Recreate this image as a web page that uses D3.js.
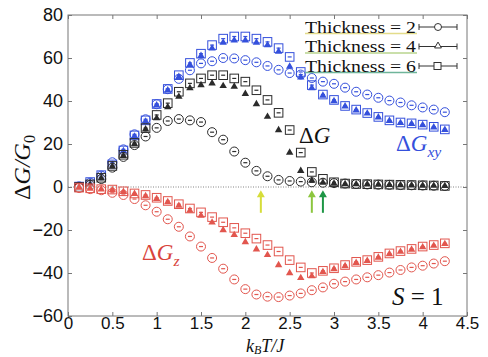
<!DOCTYPE html>
<html>
<head>
<meta charset="utf-8">
<script src="https://cdn.jsdelivr.net/npm/d3@7"></script>
<style>
  body { margin: 0; background: #fff; }
  svg { display: block; }
</style>
</head>
<body>
<div id="chart"></div>
<script>
// temperature k_B T / J
const temps = [0.125, 0.25, 0.375, 0.5, 0.625, 0.75, 0.875, 1, 1.125, 1.25, 1.375, 1.5,
  1.625, 1.75, 1.875, 2, 2.125, 2.25, 2.375, 2.5, 2.625, 2.75, 2.875, 3, 3.125, 3.25,
  3.375, 3.5, 3.625, 3.75, 3.875, 4, 4.125, 4.25];

// ΔG_xy
const gxy2 = [0.3, 2, 5.3, 11.5, 17.5, 24.5, 31.5, 38.5, 45.5, 50.3, 54.3, 57.5, 58.5, 60, 59.8, 59,
  58, 56.3, 54.5, 53, 52.3, 50.7, 49, 48, 46.2, 44.3, 43, 41.5, 40.2, 39.3, 38, 37, 36, 34.8];
const gxy4 = [0.2, 2.2, 5.3, 10.3, 16.7, 23.5, 30.5, 38, 45, 51.2, 56.8, 61, 64.5, 67.2, 68.2, 68.2,
  67.2, 66, 63, 56, 51, 46, 42.5, 40, 37.5, 35.7, 34.2, 32.4, 30.8, 29.8, 29.4, 28.8, 27.8, 26.6];
const gxy6 = [0.2, 2.3, 5.5, 10.5, 17, 24, 31, 38.6, 45.6, 52, 57.7, 62, 66, 69, 70, 70,
  69, 67.5, 64.6, 60.5, 53.5, 47.4, 43, 40.5, 37.7, 36, 34.4, 32.6, 31, 30, 29.6, 29, 28, 26.8];

// ΔG
const g2 = [0, 1, 3.7, 9, 14, 19.5, 23.5, 27.5, 30.7, 31.6, 31, 30.2, 25.5, 22, 16.5, 11.3,
  7.5, 5, 3.3, 2.8, 2.5, 2.2, 2, 1.8, 1.6, 1.4, 1.2, 1.1, 1, 0.9, 0.8, 0.7, 0.6, 0.5];
const g4 = [0, 1.1, 4, 9.5, 14.5, 20, 26.8, 32, 37.2, 42, 46, 47.4, 48.2, 47, 46.7, 43.3,
  38.6, 32.7, 26.5, 16, 7.5, 3, 2, 1.6, 1.4, 1.3, 1.2, 1.1, 1, 0.9, 0.8, 0.7, 0.6, 0.5];
const g6 = [0, 1.2, 4.3, 9.8, 15, 20.5, 27.4, 33.5, 39, 44.3, 48.2, 50.5, 52, 52, 50.5, 49,
  45, 40.5, 34.5, 26.5, 16, 7, 3.8, 2.2, 1.6, 1.4, 1.3, 1.2, 1.1, 1, 0.9, 0.8, 0.7, 0.5];

// ΔG_z
const gz2 = [-0.5, -1, -1.5, -2.7, -3.7, -5.6, -8.5, -11.5, -15, -18.5, -23, -27.7, -33, -38, -43, -47.5,
  -50, -51, -51.2, -50.5, -49.5, -48, -46.7, -45, -44, -43, -42, -41, -39.8, -38.6, -37.4, -36.6, -35.6, -34.5];
const gz4 = [-0.3, -0.7, -1.1, -1.4, -2.2, -3.2, -4.2, -5.5, -7, -8.7, -11, -13.3, -16.5, -20, -22.3, -25.6,
  -29, -31.6, -36.3, -40, -42.3, -41.5, -39.5, -38.2, -36.8, -35.3, -34.3, -32.8, -31.2, -30.1, -29.1, -28, -27.3, -26.5];
const gz6 = [-0.3, -0.6, -1, -1.2, -2, -3, -3.7, -5, -6.5, -8, -10, -11.8, -14, -16.4, -19, -21.5,
  -24, -27, -30, -34, -37.4, -40, -39, -37.8, -36.3, -34.8, -34, -32.5, -30.9, -29.8, -28.8, -27.7, -27, -26.2];

const xTicks = [0, 0.5, 1, 1.5, 2, 2.5, 3, 3.5, 4, 4.5];
const yTicks = [-60, -40, -20, 0, 20, 40, 60, 80];
const thickness = [2, 4, 6];
const arrowT = [2.175, 2.75, 2.875];

const config = {
  width: 488,
  height: 357,
  margin: {top: 15, right: 21, bottom: 41, left: 68},
  colors: {xy: "#3550dc", g: "#2b2b2b", z: "#e2564e"},
  arrowColors: ["#d6dd3a", "#8cc63f", "#1e9645"],
  underline: ["#e3dc8a", "#b9d58e", "#6fb59a"],
  tickLen: 4,
  serif: "'Liberation Serif', 'DejaVu Serif', serif",
  sans: "'Liberation Sans', Arial, sans-serif"
};

const m = config.margin;
const svg = d3.select("#chart").append("svg")
  .attr("width", config.width)
  .attr("height", config.height)
  .attr("viewBox", [0, 0, config.width, config.height]);

const x = d3.scaleLinear([0, 4.5], [m.left, config.width - m.right]);
const y = d3.scaleLinear([-60, 80], [config.height - m.bottom, m.top]);

// frame
svg.append("rect")
  .attr("x", x(0)).attr("y", y(80))
  .attr("width", x(4.5) - x(0)).attr("height", y(-60) - y(80))
  .attr("fill", "none").attr("stroke", "#777").attr("stroke-width", 1);

// axes with inward ticks
const axisStyle = g => {
  g.select(".domain").remove();
  g.selectAll(".tick line").attr("stroke", "#777");
  g.selectAll(".tick text").attr("font-family", config.sans).attr("font-size", 17).attr("fill", "#111");
};
svg.append("g")
  .attr("transform", `translate(0,${y(-60)})`)
  .call(d3.axisBottom(x).tickValues(xTicks).tickFormat(d3.format("")).tickSizeInner(-config.tickLen).tickSizeOuter(0).tickPadding(1))
  .call(axisStyle);
svg.append("g")
  .attr("transform", `translate(0,${y(80)})`)
  .call(d3.axisTop(x).tickValues(xTicks).tickFormat("").tickSizeInner(-config.tickLen).tickSizeOuter(0))
  .call(axisStyle);
svg.append("g")
  .attr("transform", `translate(${x(0)},0)`)
  .call(d3.axisLeft(y).tickValues(yTicks).tickFormat(d3.format("")).tickSizeInner(-config.tickLen).tickSizeOuter(0).tickPadding(5))
  .call(axisStyle)
  .call(g => g.selectAll(".tick text").attr("font-size", 18));
svg.append("g")
  .attr("transform", `translate(${x(4.5)},0)`)
  .call(d3.axisRight(y).tickValues(yTicks).tickFormat("").tickSizeInner(-config.tickLen).tickSizeOuter(0))
  .call(axisStyle);

// zero line
svg.append("line")
  .attr("x1", x(0)).attr("x2", x(4.5))
  .attr("y1", y(0)).attr("y2", y(0))
  .attr("stroke", "#777").attr("stroke-width", 0.9).attr("stroke-dasharray", "1,1.5");

// markers
function drawMarkers(values, shape, color) {
  const g = svg.append("g");
  const pts = g.selectAll("g").data(values).join("g")
    .attr("transform", (d, i) => `translate(${x(temps[i])},${y(d)})`);
  if (shape === "circle") {
    pts.append("circle").attr("r", 4.5).attr("fill", "white").attr("fill-opacity", 0.6)
      .attr("stroke", color).attr("stroke-width", 1);
  } else if (shape === "square") {
    pts.append("rect").attr("x", -4.3).attr("y", -4.3).attr("width", 8.6).attr("height", 8.6)
      .attr("fill", "none").attr("stroke", color).attr("stroke-width", 1);
  } else {
    pts.append("path").attr("d", d3.symbol(d3.symbolTriangle, 24)()).attr("fill", color);
  }
  if (shape !== "triangle")
    pts.append("line").attr("x1", -2).attr("x2", 2).attr("stroke", color).attr("stroke-width", 1.2);
}

[[gxy2, gxy4, gxy6, config.colors.xy], [g2, g4, g6, config.colors.g], [gz2, gz4, gz6, config.colors.z]]
  .forEach(([a, b, c, color]) => {
    drawMarkers(a, "circle", color);
    drawMarkers(b, "triangle", color);
    drawMarkers(c, "square", color);
  });

// arrows
const arrows = svg.append("g");
arrowT.forEach((t, i) => {
  const ax = x(t), y0 = y(-12), y1 = y(-1.5);
  arrows.append("line").attr("x1", ax).attr("x2", ax).attr("y1", y0).attr("y2", y1 + 5)
    .attr("stroke", config.arrowColors[i]).attr("stroke-width", 2);
  arrows.append("path")
    .attr("d", `M${ax - 4},${y1 + 7}L${ax},${y1}L${ax + 4},${y1 + 7}Z`)
    .attr("fill", config.arrowColors[i]);
});

// legend
const legend = svg.append("g").attr("font-family", config.serif).attr("font-size", 17).attr("fill", "#111");
const shapes = ["circle", "triangle", "square"];
thickness.forEach((t, i) => {
  const ly = 27 + i * 19.5;
  const lg = legend.append("g").attr("transform", `translate(0,${ly})`);
  lg.append("line").attr("x1", 305).attr("x2", 417).attr("y1", 6.5).attr("y2", 6.5)
    .attr("stroke", config.underline[i]).attr("stroke-width", 1.6);
  lg.append("text").attr("x", 305).attr("y", 5.5)
    .attr("textLength", 111).attr("lengthAdjust", "spacingAndGlyphs")
    .text(`Thickness = ${t}`);
  lg.append("line").attr("x1", 419).attr("x2", 457).attr("stroke", "#333").attr("stroke-width", 1);
  lg.append("line").attr("x1", 419).attr("x2", 419).attr("y1", -3).attr("y2", 3).attr("stroke", "#333");
  lg.append("line").attr("x1", 457).attr("x2", 457).attr("y1", -3).attr("y2", 3).attr("stroke", "#333");
  if (shapes[i] === "circle")
    lg.append("circle").attr("cx", 438).attr("r", 3.5).attr("fill", "white").attr("stroke", "#333");
  else if (shapes[i] === "square")
    lg.append("rect").attr("x", 434).attr("y", -3.5).attr("width", 7).attr("height", 7).attr("fill", "white").attr("stroke", "#333");
  else
    lg.append("path").attr("transform", "translate(438,-0.5)").attr("d", d3.symbol(d3.symbolTriangle, 20)())
      .attr("fill", "white").attr("stroke", "#333");
});

// annotations
const mathText = (tx, ty, size, color, main, sub) => {
  const t = svg.append("text").attr("x", tx).attr("y", ty)
    .attr("font-family", config.serif).attr("font-size", size).attr("fill", color);
  t.append("tspan").text("Δ");
  t.append("tspan").attr("font-style", "italic").text(main);
  if (sub) t.append("tspan").attr("font-style", "italic").attr("font-size", size * 0.68).attr("dy", size * 0.28).text(sub);
  return t;
};
mathText(299, 143, 23, "#111", "G");
mathText(396, 151, 23, config.colors.xy, "G", "xy");
mathText(142, 260, 23, "#d9443c", "G", "z");

svg.append("text").attr("x", 392).attr("y", 305)
  .attr("font-family", config.serif).attr("font-size", 25).attr("fill", "#111")
  .call(t => t.append("tspan").attr("font-style", "italic").text("S"))
  .call(t => t.append("tspan").text(" = 1"));

// axis labels
const xl = svg.append("text").attr("x", 246).attr("y", 352)
  .attr("font-family", config.serif).attr("font-size", 18).attr("font-style", "italic").attr("fill", "#111");
xl.append("tspan").text("k");
xl.append("tspan").attr("font-size", 12).attr("dy", 2).text("B");
xl.append("tspan").attr("dy", -2).text("T/J");

const yl = svg.append("text")
  .attr("transform", `translate(30,${y(10) + 2}) rotate(-90)`)
  .attr("text-anchor", "middle")
  .attr("font-family", config.serif).attr("font-size", 24).attr("fill", "#111");
yl.append("tspan").text("Δ");
yl.append("tspan").attr("font-style", "italic").text("G/G");
yl.append("tspan").attr("font-size", 16).attr("dy", 5).text("0");
</script>
</body>
</html>
